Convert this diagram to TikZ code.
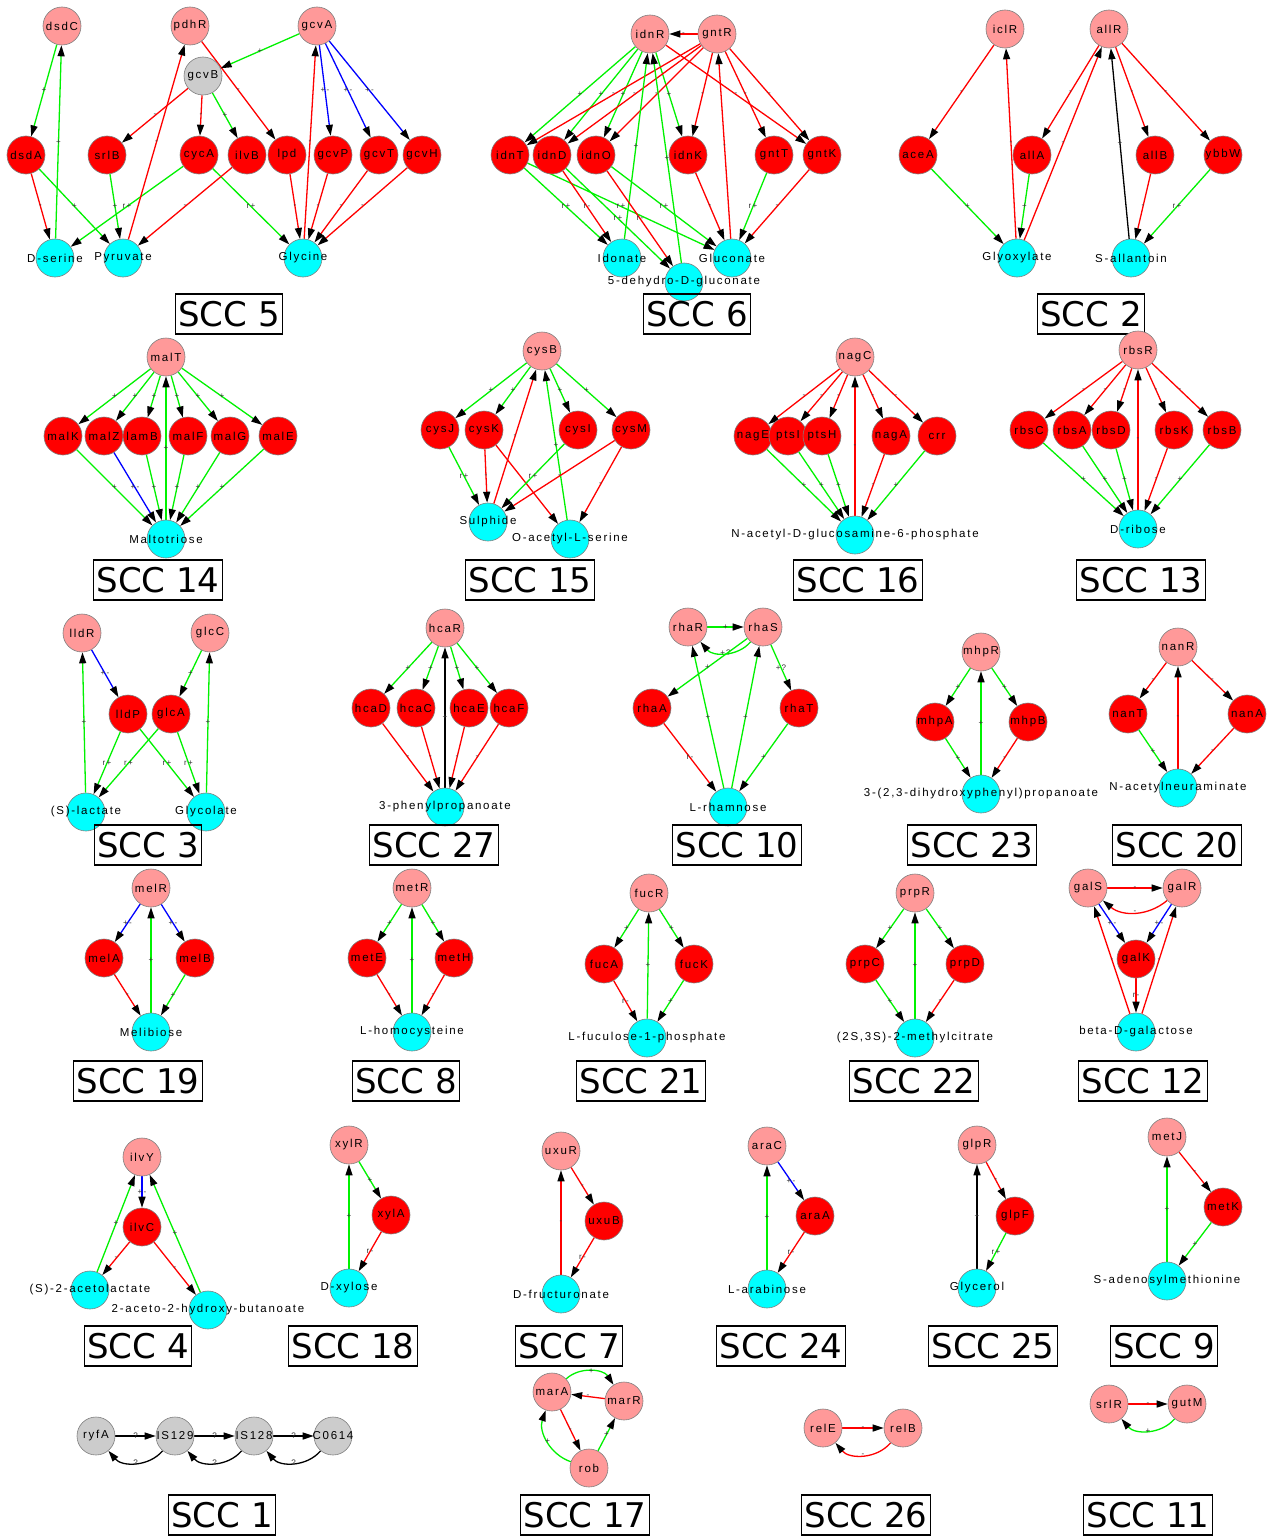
\documentclass[tikz,border=0pt]{standalone}
\usepackage{fontspec}
\usetikzlibrary{arrows.meta}
\newfontfamily\nf[LetterSpace=15]{Liberation Sans}
\newfontfamily\tf{DejaVu Sans}
\definecolor{pinkc}{RGB}{255,153,153}
\definecolor{redc}{RGB}{255,0,0}
\definecolor{cyanc}{RGB}{0,255,255}
\definecolor{grayc}{RGB}{204,204,204}
\definecolor{greenl}{RGB}{0,242,0}
\definecolor{redl}{RGB}{255,0,0}
\definecolor{bluel}{RGB}{0,0,255}
\pgfdeclarelayer{back}
\pgfdeclarelayer{bg}
\pgfsetlayers{back,bg,main}
\newcommand{\zw}[1]{\makebox[0pt]{#1}}
\newcommand{\lnk}[4]{\draw[#1] (#2) -- node[lb]{#4} (#3);}
\newcommand{\lnkb}[5]{\draw[#1] (#2) to[bend left=#5] node[lb]{#4} (#3);}
\begin{document}
\begin{tikzpicture}[x=1pt,y=-1pt,
  nd/.style={circle, draw=black!50, line width=0.6pt, minimum size=38pt, inner sep=0pt, text=black, font=\nf\fontsize{11.5}{12}\selectfont},
  rg/.style={nd, fill=pinkc},
  gn/.style={nd, fill=redc},
  mt/.style={nd, fill=cyanc},
  gy/.style={nd, fill=grayc},
  ttl/.style={draw=black, line width=1.4pt, font=\tf\fontsize{34}{40}\selectfont, minimum height=40pt, inner xsep=3pt, inner ysep=1pt, text depth=0pt},
  ed/.style={line width=1.3pt, -{Triangle[length=11pt,width=7pt,color=black,fill=black]}},
  gr/.style={ed, draw=greenl},
  rd/.style={ed, draw=redl},
  bl/.style={ed, draw=bluel},
  bk/.style={ed, draw=black},
  lb/.style={font=\nf\fontsize{8}{8}\selectfont, inner sep=0.5pt, text=black!80}]
\useasboundingbox (0,0) rectangle (1272,1536);
\begin{pgfonlayer}{back}
\fill[white] (0,0) rectangle (1272,1536);
\end{pgfonlayer}

% ---------------- SCC 5
\node[rg] (dsdC) at (62,26) {\zw{dsdC}};
\node[rg] (pdhR) at (190,26) {\zw{pdhR}};
\node[rg] (gcvA) at (317,26) {\zw{gcvA}};
\node[gy] (gcvB) at (203,76) {\zw{gcvB}};
\node[gn] (dsdA) at (26,155) {\zw{dsdA}};
\node[gn] (srlB) at (107,155) {\zw{srlB}};
\node[gn] (cycA) at (199,155) {\zw{cycA}};
\node[gn] (ilvB) at (247,155) {\zw{ilvB}};
\node[gn] (lpd) at (287,155) {\zw{lpd}};
\node[gn] (gcvP) at (333,155) {\zw{gcvP}};
\node[gn] (gcvT) at (379,155) {\zw{gcvT}};
\node[gn] (gcvH) at (422,155) {\zw{gcvH}};
\node[mt] (dser) at (55,258) {\zw{D-serine}};
\node[mt] (pyr) at (123,258) {\zw{Pyruvate}};
\node[mt] (glyc) at (303,258) {\zw{Glycine}};
\node[ttl] (t5) at (229,314) {SCC 5};

% ---------------- SCC 6
\node[rg] (idnR) at (650,34) {\zw{idnR}};
\node[rg] (gntR) at (717,34) {\zw{gntR}};
\node[gn] (idnT) at (510,155) {\zw{idnT}};
\node[gn] (idnD) at (552,155) {\zw{idnD}};
\node[gn] (idnO) at (596,155) {\zw{idnO}};
\node[gn] (idnK) at (688,155) {\zw{idnK}};
\node[gn] (gntT) at (774,155) {\zw{gntT}};
\node[gn] (gntK) at (822,155) {\zw{gntK}};
\node[mt] (idon) at (622,258) {\zw{Idonate}};
\node[mt] (glcn) at (732,258) {\zw{Gluconate}};
\node[mt] (dhg) at (684,282) {\zw{5-dehydro-D-gluconate}};
\node[ttl] (t6) at (697,314) {SCC 6};

% ---------------- SCC 2
\node[rg] (iclR) at (1005,29) {\zw{iclR}};
\node[rg] (allR) at (1109,29) {\zw{allR}};
\node[gn] (aceA) at (918,155) {\zw{aceA}};
\node[gn] (allA) at (1032,155) {\zw{allA}};
\node[gn] (allB) at (1155,155) {\zw{allB}};
\node[gn] (ybbW) at (1223,155) {\zw{ybbW}};
\node[mt] (glx) at (1017,258) {\zw{Glyoxylate}};
\node[mt] (sall) at (1131,258) {\zw{S-allantoin}};
\node[ttl] (t2) at (1091,314) {SCC 2};

% ---------------- SCC 14
\node[rg] (malT) at (166,357) {\zw{malT}};
\node[gn] (malK) at (63,436) {\zw{malK}};
\node[gn] (malZ) at (104,436) {\zw{malZ}};
\node[gn] (lamB) at (142,436) {\zw{lamB}};
\node[gn] (malF) at (188,436) {\zw{malF}};
\node[gn] (malG) at (230,436) {\zw{malG}};
\node[gn] (malE) at (278,436) {\zw{malE}};
\node[mt] (mtri) at (166,539) {\zw{Maltotriose}};
\node[ttl] (t14) at (158,580) {SCC 14};

% ---------------- SCC 15
\node[rg] (cysB) at (542,351) {\zw{cysB}};
\node[gn] (cysJ) at (440,430) {\zw{cysJ}};
\node[gn] (cysK) at (484,430) {\zw{cysK}};
\node[gn] (cysI) at (578,430) {\zw{cysI}};
\node[gn] (cysM) at (631,430) {\zw{cysM}};
\node[mt] (sulph) at (488,522) {\zw{Sulphide}};
\node[mt] (oas) at (570,539) {\zw{O-acetyl-L-serine}};
\node[ttl] (t15) at (530,580) {SCC 15};

% ---------------- SCC 16
\node[rg] (nagC) at (855,357) {\zw{nagC}};
\node[gn] (nagE) at (753,436) {\zw{nagE}};
\node[gn] (ptsI) at (788,436) {\zw{ptsI}};
\node[gn] (ptsH) at (822,436) {\zw{ptsH}};
\node[gn] (nagA) at (891,436) {\zw{nagA}};
\node[gn] (crr) at (937,436) {\zw{crr}};
\node[mt] (nagp) at (855,535) {\zw{N-acetyl-D-glucosamine-6-phosphate}};
\node[ttl] (t16) at (858,580) {SCC 16};

% ---------------- SCC 13
\node[rg] (rbsR) at (1138,350) {\zw{rbsR}};
\node[gn] (rbsC) at (1029,430) {\zw{rbsC}};
\node[gn] (rbsA) at (1072,430) {\zw{rbsA}};
\node[gn] (rbsD) at (1111,430) {\zw{rbsD}};
\node[gn] (rbsK) at (1174,430) {\zw{rbsK}};
\node[gn] (rbsB) at (1222,430) {\zw{rbsB}};
\node[mt] (drib) at (1138,529) {\zw{D-ribose}};
\node[ttl] (t13) at (1141,580) {SCC 13};

% ---------------- SCC 3
\node[rg] (lldR) at (82,633) {\zw{lldR}};
\node[rg] (glcC) at (210,633) {\zw{glcC}};
\node[gn] (lldP) at (128,714) {\zw{lldP}};
\node[gn] (glcA) at (171,714) {\zw{glcA}};
\node[mt] (slac) at (86,812) {\zw{(S)-lactate}};
\node[mt] (glyco) at (206,812) {\zw{Glycolate}};
\node[ttl] (t3) at (148,845) {SCC 3};

% ---------------- SCC 27
\node[rg] (hcaR) at (445,628) {\zw{hcaR}};
\node[gn] (hcaD) at (371,708) {\zw{hcaD}};
\node[gn] (hcaC) at (416,708) {\zw{hcaC}};
\node[gn] (hcaE) at (469,708) {\zw{hcaE}};
\node[gn] (hcaF) at (509,708) {\zw{hcaF}};
\node[mt] (ppa) at (445,807) {\zw{3-phenylpropanoate}};
\node[ttl] (t27) at (434,845) {SCC 27};

% ---------------- SCC 10
\node[rg] (rhaR) at (688,627) {\zw{rhaR}};
\node[rg] (rhaS) at (763,627) {\zw{rhaS}};
\node[gn] (rhaA) at (652,708) {\zw{rhaA}};
\node[gn] (rhaT) at (799,708) {\zw{rhaT}};
\node[mt] (lrha) at (728,807) {\zw{L-rhamnose}};
\node[ttl] (t10) at (737,845) {SCC 10};

% ---------------- SCC 23
\node[rg] (mhpR) at (981,652) {\zw{mhpR}};
\node[gn] (mhpA) at (935,722) {\zw{mhpA}};
\node[gn] (mhpB) at (1028,722) {\zw{mhpB}};
\node[mt] (dhpp) at (981,794) {\zw{3-(2,3-dihydroxyphenyl)propanoate}};
\node[ttl] (t23) at (972,845) {SCC 23};

% ---------------- SCC 20
\node[rg] (nanR) at (1178,647) {\zw{nanR}};
\node[gn] (nanT) at (1128,714) {\zw{nanT}};
\node[gn] (nanA) at (1247,714) {\zw{nanA}};
\node[mt] (neu) at (1178,788) {\zw{N-acetylneuraminate}};
\node[ttl] (t20) at (1177,845) {SCC 20};

% ---------------- SCC 19
\node[rg] (melR) at (151,888) {\zw{melR}};
\node[gn] (melA) at (104,958) {\zw{melA}};
\node[gn] (melB) at (195,958) {\zw{melB}};
\node[mt] (meli) at (151,1032) {\zw{Melibiose}};
\node[ttl] (t19) at (138,1081) {SCC 19};

% ---------------- SCC 8
\node[rg] (metR) at (412,888) {\zw{metR}};
\node[gn] (metE) at (367,958) {\zw{metE}};
\node[gn] (metH) at (454,958) {\zw{metH}};
\node[mt] (lhcy) at (412,1032) {\zw{L-homocysteine}};
\node[ttl] (t8) at (406,1081) {SCC 8};

% ---------------- SCC 21
\node[rg] (fucR) at (649,893) {\zw{fucR}};
\node[gn] (fucA) at (604,964) {\zw{fucA}};
\node[gn] (fucK) at (694,964) {\zw{fucK}};
\node[mt] (fucp) at (647,1038) {\zw{L-fuculose-1-phosphate}};
\node[ttl] (t21) at (641,1081) {SCC 21};

% ---------------- SCC 22
\node[rg] (prpR) at (915,893) {\zw{prpR}};
\node[gn] (prpC) at (865,964) {\zw{prpC}};
\node[gn] (prpD) at (965,964) {\zw{prpD}};
\node[mt] (mcit) at (915,1038) {\zw{(2S,3S)-2-methylcitrate}};
\node[ttl] (t22) at (914,1081) {SCC 22};

% ---------------- SCC 12
\node[rg] (galS) at (1088,888) {\zw{galS}};
\node[rg] (galR) at (1182,888) {\zw{galR}};
\node[gn] (galK) at (1136,959) {\zw{galK}};
\node[mt] (bgal) at (1136,1032) {\zw{beta-D-galactose}};
\node[ttl] (t12) at (1143,1081) {SCC 12};

% ---------------- SCC 4
\node[rg] (ilvY) at (142,1157) {\zw{ilvY}};
\node[gn] (ilvC) at (142,1227) {\zw{ilvC}};
\node[mt] (acl) at (90,1290) {\zw{(S)-2-acetolactate}};
\node[mt] (ahb) at (208,1310) {\zw{2-aceto-2-hydroxy-butanoate}};
\node[ttl] (t4) at (138,1346) {SCC 4};

% ---------------- SCC 18
\node[rg] (xylR) at (349,1145) {\zw{xylR}};
\node[gn] (xylA) at (391,1215) {\zw{xylA}};
\node[mt] (dxyl) at (349,1288) {\zw{D-xylose}};
\node[ttl] (t18) at (353,1346) {SCC 18};

% ---------------- SCC 7
\node[rg] (uxuR) at (561,1151) {\zw{uxuR}};
\node[gn] (uxuB) at (604,1221) {\zw{uxuB}};
\node[mt] (dfru) at (561,1294) {\zw{D-fructuronate}};
\node[ttl] (t7) at (569,1346) {SCC 7};

% ---------------- SCC 24
\node[rg] (araC) at (767,1146) {\zw{araC}};
\node[gn] (araA) at (815,1216) {\zw{araA}};
\node[mt] (lara) at (767,1289) {\zw{L-arabinose}};
\node[ttl] (t24) at (781,1346) {SCC 24};

% ---------------- SCC 25
\node[rg] (glpR) at (977,1145) {\zw{glpR}};
\node[gn] (glpF) at (1015,1216) {\zw{glpF}};
\node[mt] (glyl) at (977,1288) {\zw{Glycerol}};
\node[ttl] (t25) at (993,1346) {SCC 25};

% ---------------- SCC 9
\node[rg] (metJ) at (1167,1137) {\zw{metJ}};
\node[gn] (metK) at (1223,1207) {\zw{metK}};
\node[mt] (sam) at (1167,1281) {\zw{S-adenosylmethionine}};
\node[ttl] (t9) at (1164,1346) {SCC 9};

% ---------------- SCC 1
\node[gy] (ryfA) at (96,1436) {\zw{ryfA}};
\node[gy] (isa) at (175,1436) {\zw{IS129}};
\node[gy] (isb) at (254,1436) {\zw{IS128}};
\node[gy] (cos) at (333,1436) {\zw{C0614}};
\node[ttl] (t1) at (222,1515) {SCC 1};

% ---------------- SCC 17
\node[rg] (marA) at (552,1392) {\zw{marA}};
\node[rg] (marR) at (624,1401) {\zw{marR}};
\node[rg] (rob) at (589,1468) {\zw{rob}};
\node[ttl] (t17) at (585,1515) {SCC 17};

% ---------------- SCC 26
\node[rg] (relE) at (823,1428) {\zw{relE}};
\node[rg] (relB) at (903,1428) {\zw{relB}};
\node[ttl] (t26) at (866,1515) {SCC 26};

% ---------------- SCC 11
\node[rg] (srlR) at (1109,1404) {\zw{srlR}};
\node[rg] (gutM) at (1187,1404) {\zw{gutM}};
\node[ttl] (t11) at (1148,1515) {SCC 11};

\begin{pgfonlayer}{bg}
% SCC 5
\lnk{gr}{dsdC}{dsdA}{+}
\lnk{gr}{dser}{dsdC}{+}
\lnk{rd}{dsdA}{dser}{-}
\lnk{gr}{dsdA}{pyr}{+}
\lnk{gr}{srlB}{pyr}{+}
\lnk{gr}{cycA}{dser}{r+}
\lnk{rd}{pyr}{pdhR}{-}
\lnk{rd}{pdhR}{lpd}{-}
\lnk{gr}{gcvA}{gcvB}{+}
\lnk{rd}{gcvB}{srlB}{-}
\lnk{rd}{gcvB}{cycA}{-}
\lnk{gr}{gcvB}{ilvB}{+}
\lnk{bl}{gcvA}{gcvP}{+-}
\lnk{bl}{gcvA}{gcvT}{+-}
\lnk{bl}{gcvA}{gcvH}{+-}
\lnk{rd}{glyc}{gcvA}{-}
\lnk{gr}{cycA}{glyc}{r+}
\lnk{rd}{ilvB}{pyr}{-}
\lnk{rd}{lpd}{glyc}{-}
\lnk{rd}{gcvP}{glyc}{-}
\lnk{rd}{gcvT}{glyc}{-}
\lnk{rd}{gcvH}{glyc}{-}
% SCC 6
\lnk{rd}{gntR}{idnR}{-}
\lnk{gr}{idnR}{idnT}{+}
\lnk{gr}{idnR}{idnD}{+}
\lnk{gr}{idnR}{idnO}{+}
\lnk{gr}{idnR}{idnK}{+}
\lnk{rd}{gntR}{idnT}{-}
\lnk{rd}{gntR}{idnD}{-}
\lnk{rd}{gntR}{idnO}{-}
\lnk{rd}{gntR}{idnK}{-}
\lnk{rd}{gntR}{gntT}{-}
\lnk{rd}{gntR}{gntK}{-}
\lnk{rd}{idnR}{gntK}{-}
\lnk{gr}{idon}{idnR}{+}
\lnk{gr}{dhg}{idnR}{+}
\lnk{rd}{glcn}{gntR}{-}
\lnk{gr}{idnT}{idon}{r+}
\lnk{gr}{idnT}{glcn}{r+}
\lnk{rd}{idnD}{idon}{r-}
\lnk{gr}{idnD}{dhg}{r+}
\lnk{rd}{idnO}{dhg}{r-}
\lnk{gr}{idnO}{glcn}{r+}
\lnk{rd}{idnK}{glcn}{-}
\lnk{gr}{gntT}{glcn}{r+}
\lnk{rd}{gntK}{glcn}{-}
% SCC 2
\lnk{rd}{iclR}{aceA}{-}
\lnk{rd}{glx}{iclR}{-}
\lnk{rd}{allR}{allA}{-}
\lnk{rd}{glx}{allR}{-}
\lnk{bk}{sall}{allR}{+}
\lnk{rd}{allR}{allB}{-}
\lnk{rd}{allR}{ybbW}{-}
\lnk{gr}{aceA}{glx}{+}
\lnk{gr}{allA}{glx}{+}
\lnk{rd}{allB}{sall}{-}
\lnk{gr}{ybbW}{sall}{r+}
% SCC 14
\lnk{gr}{malT}{malK}{+}
\lnk{gr}{malT}{malZ}{+}
\lnk{gr}{malT}{lamB}{+}
\lnk{gr}{malT}{malF}{+}
\lnk{gr}{malT}{malG}{+}
\lnk{gr}{malT}{malE}{+}
\lnk{gr}{malK}{mtri}{+}
\lnk{bl}{malZ}{mtri}{+-}
\lnk{gr}{lamB}{mtri}{+}
\lnk{gr}{malF}{mtri}{+}
\lnk{gr}{malG}{mtri}{+}
\lnk{gr}{malE}{mtri}{+}
\lnk{gr}{mtri}{malT}{+}
% SCC 15
\lnk{gr}{cysB}{cysJ}{+}
\lnk{gr}{cysB}{cysK}{+}
\lnk{gr}{cysB}{cysI}{+}
\lnk{gr}{cysB}{cysM}{+}
\lnk{rd}{sulph}{cysB}{-}
\lnk{gr}{oas}{cysB}{+}
\lnk{gr}{cysJ}{sulph}{r+}
\lnk{rd}{cysK}{sulph}{-}
\lnk{rd}{cysK}{oas}{-}
\lnk{gr}{cysI}{sulph}{r+}
\lnk{rd}{cysM}{sulph}{-}
\lnk{rd}{cysM}{oas}{-}
% SCC 16
\lnk{rd}{nagC}{nagE}{-}
\lnk{rd}{nagC}{ptsI}{-}
\lnk{rd}{nagC}{ptsH}{-}
\lnk{rd}{nagC}{nagA}{-}
\lnk{rd}{nagC}{crr}{-}
\lnk{gr}{nagE}{nagp}{+}
\lnk{gr}{ptsI}{nagp}{+}
\lnk{gr}{ptsH}{nagp}{+}
\lnk{rd}{nagA}{nagp}{-}
\lnk{gr}{crr}{nagp}{+}
\lnk{rd}{nagp}{nagC}{-}
% SCC 13
\lnk{rd}{rbsR}{rbsC}{-}
\lnk{rd}{rbsR}{rbsA}{-}
\lnk{rd}{rbsR}{rbsD}{-}
\lnk{rd}{rbsR}{rbsK}{-}
\lnk{rd}{rbsR}{rbsB}{-}
\lnk{gr}{rbsC}{drib}{+}
\lnk{gr}{rbsA}{drib}{+}
\lnk{gr}{rbsD}{drib}{+}
\lnk{rd}{rbsK}{drib}{-}
\lnk{gr}{rbsB}{drib}{+}
\lnk{rd}{drib}{rbsR}{-}
% SCC 3
\lnk{bl}{lldR}{lldP}{+-}
\lnk{gr}{glcC}{glcA}{+}
\lnk{gr}{slac}{lldR}{+}
\lnk{gr}{glyco}{glcC}{+}
\lnk{gr}{lldP}{slac}{r+}
\lnk{gr}{lldP}{glyco}{r+}
\lnk{gr}{glcA}{slac}{r+}
\lnk{gr}{glcA}{glyco}{r+}
% SCC 27
\lnk{gr}{hcaR}{hcaD}{+}
\lnk{gr}{hcaR}{hcaC}{+}
\lnk{gr}{hcaR}{hcaE}{+}
\lnk{gr}{hcaR}{hcaF}{+}
\lnk{rd}{hcaD}{ppa}{-}
\lnk{rd}{hcaC}{ppa}{-}
\lnk{rd}{hcaE}{ppa}{-}
\lnk{rd}{hcaF}{ppa}{-}
\lnk{bk}{ppa}{hcaR}{+}
% SCC 10
\lnk{gr}{rhaR}{rhaS}{+}
\lnkb{gr}{rhaS}{rhaR}{+?}{50}
\lnk{gr}{rhaS}{rhaA}{+}
\lnk{gr}{rhaS}{rhaT}{+?}
\lnk{gr}{lrha}{rhaR}{+}
\lnk{gr}{lrha}{rhaS}{+}
\lnk{rd}{rhaA}{lrha}{r-}
\lnk{gr}{rhaT}{lrha}{+}
% SCC 23
\lnk{gr}{mhpR}{mhpA}{+}
\lnk{gr}{mhpR}{mhpB}{+}
\lnk{gr}{dhpp}{mhpR}{+}
\lnk{gr}{mhpA}{dhpp}{+}
\lnk{rd}{mhpB}{dhpp}{-}
% SCC 20
\lnk{rd}{nanR}{nanT}{-}
\lnk{rd}{nanR}{nanA}{-}
\lnk{rd}{neu}{nanR}{-}
\lnk{gr}{nanT}{neu}{+}
\lnk{rd}{nanA}{neu}{-}
% SCC 19
\lnk{bl}{melR}{melA}{+-}
\lnk{bl}{melR}{melB}{+-}
\lnk{gr}{meli}{melR}{+}
\lnk{rd}{melA}{meli}{-}
\lnk{gr}{melB}{meli}{+}
% SCC 8
\lnk{gr}{metR}{metE}{+}
\lnk{gr}{metR}{metH}{+}
\lnk{gr}{lhcy}{metR}{+}
\lnk{rd}{metE}{lhcy}{-}
\lnk{rd}{metH}{lhcy}{-}
% SCC 21
\lnk{gr}{fucR}{fucA}{+}
\lnk{gr}{fucR}{fucK}{+}
\lnk{gr}{fucp}{fucR}{+}
\lnk{rd}{fucA}{fucp}{r-}
\lnk{gr}{fucK}{fucp}{+}
% SCC 22
\lnk{gr}{prpR}{prpC}{+}
\lnk{gr}{prpR}{prpD}{+}
\lnk{gr}{mcit}{prpR}{+}
\lnk{gr}{prpC}{mcit}{+}
\lnk{rd}{prpD}{mcit}{-}
% SCC 12
\lnk{rd}{galS}{galR}{-}
\lnkb{rd}{galR}{galS}{-}{40}
\lnk{bl}{galS}{galK}{+-}
\lnk{bl}{galR}{galK}{+-}
\lnk{rd}{galK}{bgal}{r-}
\lnk{rd}{bgal}{galS}{-}
\lnk{rd}{bgal}{galR}{-}
% SCC 4
\lnk{bl}{ilvY}{ilvC}{+-}
\lnk{gr}{acl}{ilvY}{+}
\lnk{gr}{ahb}{ilvY}{+}
\lnk{rd}{ilvC}{acl}{-}
\lnk{rd}{ilvC}{ahb}{-}
% SCC 18
\lnk{gr}{xylR}{xylA}{+}
\lnk{gr}{dxyl}{xylR}{+}
\lnk{rd}{xylA}{dxyl}{r-}
% SCC 7
\lnk{rd}{uxuR}{uxuB}{-}
\lnk{rd}{dfru}{uxuR}{-}
\lnk{rd}{uxuB}{dfru}{r-}
% SCC 24
\lnk{bl}{araC}{araA}{+-}
\lnk{gr}{lara}{araC}{+}
\lnk{rd}{araA}{lara}{r-}
% SCC 25
\lnk{rd}{glpR}{glpF}{-}
\lnk{bk}{glyl}{glpR}{+}
\lnk{gr}{glpF}{glyl}{r+}
% SCC 9
\lnk{rd}{metJ}{metK}{-}
\lnk{gr}{sam}{metJ}{+}
\lnk{gr}{metK}{sam}{+}
% SCC 1
\lnk{bk}{ryfA}{isa}{?}
\lnkb{bk}{isa}{ryfA}{?}{50}
\lnk{bk}{isa}{isb}{?}
\lnkb{bk}{isb}{isa}{?}{50}
\lnk{bk}{isb}{cos}{?}
\lnkb{bk}{cos}{isb}{?}{50}
% SCC 17
\lnkb{gr}{marA}{marR}{+}{50}
\lnk{rd}{marR}{marA}{-}
\lnk{rd}{marA}{rob}{-}
\lnkb{gr}{rob}{marA}{+}{45}
\lnk{gr}{rob}{marR}{+}
% SCC 26
\lnk{rd}{relE}{relB}{-}
\lnkb{rd}{relB}{relE}{-}{50}
% SCC 11
\lnk{rd}{srlR}{gutM}{-}
\lnkb{gr}{gutM}{srlR}{+}{50}
\end{pgfonlayer}
\end{tikzpicture}
\end{document}
